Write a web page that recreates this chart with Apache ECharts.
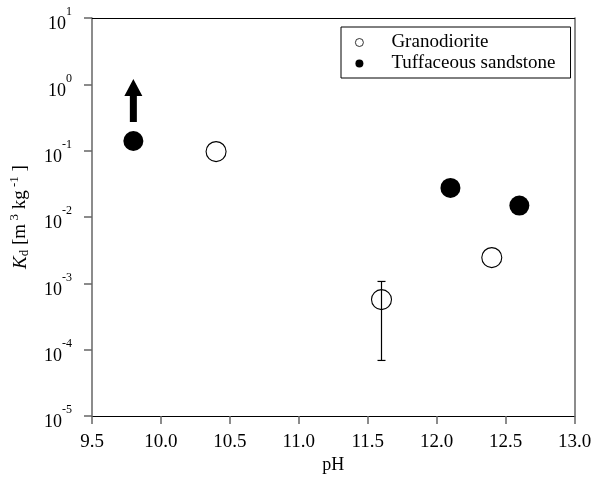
<!DOCTYPE html>
<html>
<head>
<meta charset="utf-8">
<script src="https://cdn.jsdelivr.net/npm/echarts@6/dist/echarts.min.js"></script>
<style>
  html, body { margin: 0; padding: 0; background: #fff; }
  #chart { width: 595px; height: 479px; }
</style>
</head>
<body>
<div id="chart"></div>
<script>
// data
const granoPH = [10.4, 11.6, 12.4]
const granoKd = [0.097, 0.00057, 0.00245]
const granoErrLow = [null, 0.000069, null]
const granoErrHigh = [null, 0.00107, null]

const tuffPH = [9.8, 12.1, 12.6]
const tuffKd = [0.14, 0.0275, 0.0149]

// arrow: kd is a lower limit for the first tuff sample
const arrowPH = [9.8]
const arrowFrom = [0.27]
const arrowTo = [1.2]

const FONT = '"Liberation Serif", "Times New Roman", serif'

let chart = echarts.init(document.getElementById('chart'), null, {renderer: 'canvas'})

const granoData = granoPH.map((x, i) => [x, granoKd[i]])
const tuffData = tuffPH.map((x, i) => [x, tuffKd[i]])
const errData = []
granoPH.forEach((x, i) => {
    if (granoErrLow[i] != null) errData.push([x, granoErrLow[i], granoErrHigh[i]])
})
const arrowData = arrowPH.map((x, i) => [x, arrowFrom[i], arrowTo[i]])

let option = {
    animation: false,
    backgroundColor: '#fff',
    grid: {left: 91, right: 20.5, top: 18, bottom: 62},
    legend: {
        orient: 'vertical',
        left: 341,
        top: 27,
        padding: [6, 15, 5, 14],
        itemGap: 2,
        itemWidth: 8,
        itemHeight: 8,
        borderColor: '#000',
        borderWidth: 1,
        data: [
            {name: 'Granodiorite', itemStyle: {borderWidth: 0.8}},
            {name: 'Tuffaceous sandstone'}
        ],
        textStyle: {fontFamily: FONT, fontSize: 19, color: '#000', padding: [0, 0, 0, 23], lineHeight: 18}
    },
    xAxis: [{
        type: 'value',
        min: 9.5,
        max: 13,
        interval: 0.5,
        name: 'pH',
        nameLocation: 'middle',
        nameGap: 39,
        nameTextStyle: {fontFamily: FONT, fontSize: 18, color: '#000'},
        axisLine: {lineStyle: {color: '#000', width: 1}},
        axisTick: {show: true, length: 8, lineStyle: {color: '#666', width: 1.5}},
        axisLabel: {
            fontFamily: FONT, fontSize: 19, color: '#000', margin: 16,
            formatter: v => v.toFixed(1)
        },
        splitLine: {show: false}
    }, {
        type: 'value',
        position: 'top',
        min: 9.5,
        max: 13,
        axisLine: {show: true, lineStyle: {color: '#000', width: 1}},
        axisTick: {show: false},
        axisLabel: {show: false},
        splitLine: {show: false}
    }],
    yAxis: [{
        type: 'log',
        logBase: 10,
        min: 1e-5,
        max: 10,
        interval: 1,
        name: '{i|K}{sub|d}{n| [m}{sup| 3}{n| kg}{sup| -1}{n| ]}',
        nameLocation: 'middle',
        nameRotate: 90,
        nameGap: 59,
        nameTextStyle: {
            color: '#000',
            rich: {
                i: {fontFamily: FONT, fontSize: 19, fontStyle: 'italic', color: '#000'},
                sub: {fontFamily: FONT, fontSize: 13, color: '#000', padding: [8, 0, 0, 0]},
                n: {fontFamily: FONT, fontSize: 19, color: '#000'},
                sup: {fontFamily: FONT, fontSize: 13, color: '#000', padding: [0, 0, 12, 0]}
            }
        },
        axisLine: {show: true, lineStyle: {color: '#666', width: 1.5}},
        axisTick: {show: true, length: 8, lineStyle: {color: '#666', width: 1.5}},
        axisLabel: {
            margin: 20,
            formatter: v => '{b|10}{s|' + Math.round(Math.log10(v)) + '}',
            rich: {
                b: {fontFamily: FONT, fontSize: 18, color: '#000', padding: [13, 0, 0, 0]},
                s: {fontFamily: FONT, fontSize: 12, color: '#000', padding: [0, 0, 12, 0]}
            }
        },
        splitLine: {show: false}
    }, {
        type: 'log',
        logBase: 10,
        min: 1e-5,
        max: 10,
        position: 'right',
        axisLine: {show: true, lineStyle: {color: '#666', width: 1.5}},
        axisTick: {show: false},
        axisLabel: {show: false},
        splitLine: {show: false}
    }],
    series: [{
        name: 'errbar',
        type: 'custom',
        renderItem: (params, api) => {
            const x = api.value(0)
            const lo = api.coord([x, api.value(1)])
            const hi = api.coord([x, api.value(2)])
            const hw = 4
            const st = {stroke: '#000', lineWidth: 1.2}
            return {
                type: 'group',
                children: [
                    {type: 'line', shape: {x1: lo[0], y1: lo[1], x2: hi[0], y2: hi[1]}, style: st},
                    {type: 'line', shape: {x1: lo[0] - hw, y1: lo[1], x2: lo[0] + hw, y2: lo[1]}, style: st},
                    {type: 'line', shape: {x1: hi[0] - hw, y1: hi[1], x2: hi[0] + hw, y2: hi[1]}, style: st}
                ]
            }
        },
        data: errData,
        z: 1
    }, {
        name: 'Granodiorite',
        type: 'scatter',
        symbol: 'circle',
        symbolSize: 20,
        itemStyle: {color: 'rgba(255,255,255,0)', borderColor: '#000', borderWidth: 1.1, opacity: 1},
        data: granoData,
        z: 3
    }, {
        name: 'Tuffaceous sandstone',
        type: 'scatter',
        symbol: 'circle',
        symbolSize: 20,
        itemStyle: {color: '#000', opacity: 1},
        data: tuffData,
        z: 3
    }, {
        name: 'arrow',
        type: 'custom',
        renderItem: (params, api) => {
            const x = api.value(0)
            const a = api.coord([x, api.value(1)])
            const b = api.coord([x, api.value(2)])
            const sw = 3.5, hw = 9, hl = 17
            const cx = a[0]
            const pts = [
                [cx - sw, a[1]], [cx - sw, b[1] + hl], [cx - hw, b[1] + hl],
                [cx, b[1]], [cx + hw, b[1] + hl], [cx + sw, b[1] + hl], [cx + sw, a[1]]
            ]
            return {type: 'polygon', shape: {points: pts}, style: {fill: '#000'}}
        },
        data: arrowData,
        z: 3
    }]
}

chart.setOption(option)
</script>
</body>
</html>
